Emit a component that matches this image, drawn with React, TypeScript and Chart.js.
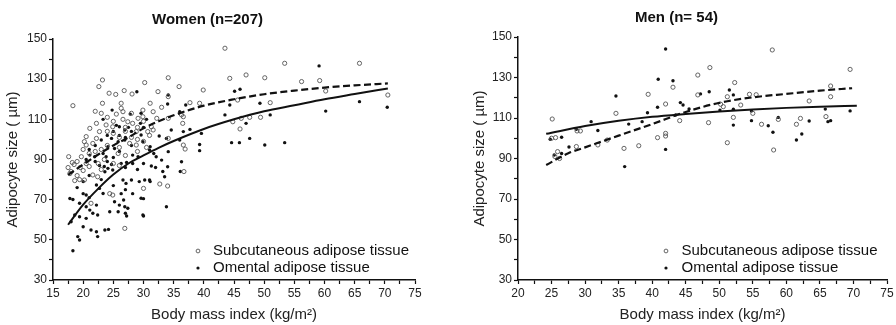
import React, { useEffect, useRef } from "react";
import { Chart, registerables } from "chart.js";

Chart.register(...registerables);

type P = [number, number];

const FONT = "'Liberation Sans', Arial, Helvetica, sans-serif";

const womenSubcutaneous: P[] = [
  [17.5, 86], [17.6, 91.4], [17.8, 83], [18, 84], [18.2, 88.5], [18.3, 116.8], [18.5, 87.5], [18.6, 79.5],
  [19, 82], [19, 89], [19.4, 80], [19.5, 86], [19.7, 91.4], [20, 84.5], [20, 95], [20.2, 79.8], [20.2, 98.9],
  [20.5, 88], [20.5, 97.2], [20.5, 101.4], [21, 86.5], [21, 93], [21.1, 105.5], [21.3, 68.2], [21.6, 82.3],
  [21.6, 98], [22, 94], [22, 114], [22.2, 100.5], [22.2, 108], [22.4, 81.4], [22.5, 88], [22.6, 126.3],
  [22.7, 103.9], [23, 85], [23, 95], [23, 113], [23.2, 118], [23.2, 129.6], [23.5, 90], [23.8, 107.2], [24, 97],
  [24, 104], [24, 111], [24.3, 123], [24.4, 73], [24.9, 72.3], [24.9, 106.3], [25, 88], [25, 103], [25, 109],
  [25.4, 122.4], [25.5, 112.6], [25.8, 93], [26, 87], [26, 96], [26, 101], [26.3, 115.5], [26.3, 118], [26.6, 110],
  [26.6, 113.8], [26.8, 124.3], [26.9, 55.7], [27, 92], [27, 104], [27, 106], [27.4, 108.8], [27.7, 98], [28, 101],
  [28, 113], [28.1, 122.6], [28.2, 108], [28.8, 97.2], [28.8, 103.9], [29, 94], [29, 100], [29, 106], [29.1, 110.5],
  [29.9, 111.3], [29.9, 114.6], [30, 75.6], [30, 99], [30, 109], [30.2, 128.3], [30.5, 96], [30.7, 103.9], [31, 102],
  [31.1, 118], [31.3, 106.3], [31.6, 104.7], [31.6, 113.8], [32.2, 110.5], [32.4, 123.8], [32.7, 77.8], [33, 116],
  [34, 76.8], [34.1, 100.5], [34.1, 110.5], [34.1, 121.3], [34.1, 130.7], [35.9, 126.3], [36.3, 112.2], [36.5, 108],
  [36.6, 97.2], [36.6, 111.3], [36.7, 84], [36.9, 95.2], [37.7, 118.3], [39.3, 118], [39.9, 124.6], [43.5, 145.4],
  [44.3, 130.4], [44.8, 108.8], [45.6, 119.6], [46, 105.2], [46.2, 110.5], [47, 132.1], [47.6, 111], [49.4, 111],
  [50.1, 130.7], [51, 118.3], [53.4, 137.9], [56.2, 128.8], [59.2, 129.3], [60.2, 124.1], [65.8, 137.9], [70.5, 122.1],
];

const womenOmental: P[] = [
  [17.8, 70.6], [18, 59], [18.3, 44.6], [18.3, 70.1], [18.6, 62.4], [19, 76], [19.1, 51.6], [19.4, 49.9],
  [19.4, 61.5], [19.4, 68.2], [20, 56.5], [20, 73], [20, 79], [20.5, 60.7], [20.5, 66.5], [20.5, 72.3], [20.5, 90],
  [21, 71], [21, 82], [21, 95], [21.1, 64.8], [21.1, 92.2], [21.3, 54.9], [21.6, 63.2], [21.9, 91.4], [22, 89],
  [22, 97], [22.2, 54], [22.2, 67.3], [22.2, 77.3], [22.4, 51.6], [22.4, 62.4], [22.7, 75.6], [22.7, 87], [23, 80],
  [23, 99.7], [23.3, 73.1], [23.3, 93], [23.3, 110], [23.5, 86.5], [23.6, 54.9], [23.6, 83.9], [23.8, 91.4], [24, 89],
  [24, 102], [24.1, 85.6], [24.1, 96.4], [24.2, 55.2], [24.4, 64], [24.7, 87.5], [24.7, 100.5], [24.8, 114.6],
  [24.9, 84.8], [25, 77], [25, 91], [25, 104], [25.2, 69], [25.2, 95.5], [25.5, 107], [25.8, 64], [25.8, 98.9],
  [26, 67.3], [26, 94], [26, 102], [26, 106.3], [26.3, 73], [26.3, 88], [26.6, 79.8], [26.7, 69.8], [26.9, 66.5],
  [26.9, 99.7], [26.9, 104.7], [27, 63.2], [27, 75], [27, 86], [27, 101], [27.1, 78.1], [27.2, 61.9], [27.2, 88.5],
  [27.4, 65.7], [27.5, 106], [27.8, 112.6], [28, 79.8], [28, 97], [28, 104], [28.2, 73], [28.2, 88], [28.2, 92.2],
  [28.9, 123.7], [29, 85], [29.1, 91.4], [29.3, 79], [29.5, 108], [29.6, 70.7], [29.6, 102.2], [29.6, 113],
  [29.9, 62.4], [29.9, 98.9], [30, 61.9], [30, 70.5], [30, 88], [30, 106], [30.2, 79.8], [30.5, 110], [31, 79.8],
  [31, 94.7], [31.1, 79], [31.1, 96.4], [31.3, 86.8], [31.7, 93], [32, 86], [32.1, 91.4], [32.6, 101.7], [33, 89.7],
  [33.2, 84], [33.5, 81.4], [33.8, 66.5], [33.8, 100.5], [34, 86.4], [34, 117.6], [34.1, 93.9], [34.1, 122.1],
  [34.6, 104.7], [36, 99.7], [36, 113.8], [36.1, 84], [36.3, 88.9], [36.6, 103.9], [37, 117.1], [37.7, 105],
  [39.3, 94.4], [39.3, 97.5], [39.6, 103], [43.5, 112.2], [44.3, 117.1], [44.6, 98.4], [45.1, 124], [45.9, 98.4],
  [46, 125], [47, 108], [47.6, 100.5], [49.3, 118], [50.1, 97.2], [51, 112.2], [53.4, 98.4], [59.1, 136.6],
  [60.2, 114.1], [65.8, 118.8], [70.4, 116],
];

const menSubcutaneous: P[] = [
  [25, 100], [25.1, 109.5], [25.5, 91], [25.6, 100.3], [25.9, 93.4], [26.2, 90], [28.7, 95.9], [28.8, 103.6],
  [29.3, 103.6], [31.9, 96.7], [33.3, 99.1], [34.6, 112.3], [35.8, 95], [38, 96.3], [39.4, 121.7], [40.8, 100.3],
  [42, 101.1], [42, 102.4], [42, 116.9], [43.1, 125.2], [44.1, 108.7], [46.8, 121.4], [46.8, 131.2], [48.4, 107.7],
  [48.6, 134.9], [50.2, 116.8], [50.6, 115.6], [51.2, 97.8], [51.2, 120.5], [52.1, 110.3], [52.3, 127.5],
  [53.2, 116.4], [54.5, 121.7], [55, 112.3], [55.5, 121.5], [56.3, 106.9], [57.9, 143.6], [58.1, 94.2],
  [58.8, 109.3], [61.5, 106.9], [62.1, 109.8], [63.4, 118.4], [65.9, 110.7], [66.6, 120.5], [66.6, 125.8], [69.5, 134],
];

const menOmental: P[] = [
  [24.8, 99.5], [25.4, 91.7], [26.5, 92.5], [26.5, 100.5], [27.6, 95.7], [28.7, 104.4], [30.9, 108.2],
  [31.9, 103.8], [34.6, 120.9], [35.9, 86], [36.5, 107], [38.5, 108.2], [39.3, 112.6], [40.8, 115.3], [40.9, 129.1],
  [42, 94.5], [42, 144.1], [43.1, 128.4], [43.5, 111.5], [44.2, 117.6], [44.6, 116.4], [45.5, 114.5], [47.2, 121.9],
  [48.5, 123], [50.1, 113.9], [51.5, 123.8], [52.1, 106.5], [52.1, 114.3], [52.1, 121.4], [54.8, 108.7],
  [54.8, 113.5], [57.3, 106.2], [58, 103], [58.8, 110.3], [61.5, 99.1], [62.3, 102.1], [63.4, 108.5], [65.8, 114.4],
  [66.2, 108.2], [66.6, 108.7], [69.5, 113.5],
];

const womenSubFit: P[] = [
  [17.5, 82.3], [20, 87.5], [22.5, 92.5], [25, 97], [27.5, 101], [30, 105.5], [32.5, 109], [35, 112], [40, 116.8],
  [45, 120], [50, 122.5], [55, 124.3], [60, 125.8], [65, 126.9], [70.5, 127.9],
];
const womenOmFit: P[] = [
  [17.5, 57.5], [20, 67.5], [22.5, 75.5], [25, 82.5], [27.5, 88], [30, 92], [32.5, 95.8], [35, 99.2], [40, 105.2],
  [45, 110], [50, 114], [55, 117], [60, 120], [65, 122.6], [70.5, 125.4],
];
const menSubFit: P[] = [
  [24.2, 86.8], [27.5, 92.6], [30, 95.5], [35, 101.3], [40, 107], [45, 113], [50, 117.5], [55, 120.2], [60, 121.9],
  [65, 123.5], [69.8, 124.7],
];
const menOmFit: P[] = [
  [24.2, 102.2], [30, 106], [35, 108.6], [40, 110.6], [45, 112], [50, 113.2], [55, 114.2], [60, 115], [65, 115.6],
  [70.5, 116.1],
];

const seriesLabels = ["Subcutaneous adipose tissue", "Omental adipose tissue"];
const xTitle = "Body mass index (kg/m²)";
const yTitle = "Adipocyte size ( µm)";

const toXY = (arr: P[]) => arr.map(([x, y]) => ({ x, y }));

const insideLegend = {
  id: "insideLegend",
  afterDraw(chart: any, _args: any, opts: any) {
    const { ctx, chartArea } = chart;
    ctx.save();
    ctx.font = `15px ${FONT}`;
    ctx.textBaseline = "middle";
    ctx.fillStyle = "#111";
    seriesLabels.forEach((label, i) => {
      const y = chartArea.bottom - opts.bottom + i * 17;
      const mx = chartArea.left + opts.markerX;
      ctx.beginPath();
      if (i === 0) {
        ctx.strokeStyle = "#555";
        ctx.lineWidth = 0.9;
        ctx.arc(mx, y, 1.9, 0, Math.PI * 2);
        ctx.stroke();
      } else {
        ctx.fillStyle = "#111";
        ctx.arc(mx, y, 1.6, 0, Math.PI * 2);
        ctx.fill();
      }
      ctx.fillStyle = "#111";
      ctx.fillText(label, chartArea.left + opts.textX, y);
    });
    ctx.restore();
  },
};

type Panel = {
  title: string;
  sub: P[];
  om: P[];
  subFit: P[];
  omFit: P[];
  xMin: number;
  padLeft: number;
  padRight: number;
  yWidth: number;
  yTitlePad: number;
  titlePadTop: number;
  titlePadBottom: number;
  legendMarkerX: number;
  legendTextX: number;
};

const panels: Panel[] = [
  {
    title: "Women (n=207)", sub: womenSubcutaneous, om: womenOmental, subFit: womenSubFit, omFit: womenOmFit,
    xMin: 15, padLeft: 0, padRight: 33, yWidth: 53, yTitlePad: 4, titlePadTop: 11, titlePadBottom: 10,
    legendMarkerX: 145, legendTextX: 160,
  },
  {
    title: "Men (n= 54)", sub: menSubcutaneous, om: menOmental, subFit: menSubFit, omFit: menOmFit,
    xMin: 20, padLeft: 18, padRight: 9, yWidth: 52, yTitlePad: 5, titlePadTop: 9, titlePadBottom: 10,
    legendMarkerX: 148, legendTextX: 163.5,
  },
];

function ChartPanel({ p }: { p: Panel }) {
  const ref = useRef<HTMLCanvasElement | null>(null);
  useEffect(() => {
    if (!ref.current) return;
    const tickFont = { family: FONT, size: 12 };
    const chart = new Chart(ref.current, {
      type: "scatter",
      data: {
        datasets: [
          {
            label: "subFit", data: toXY(p.subFit), showLine: true, pointRadius: 0, borderColor: "#111",
            borderWidth: 2.2, borderDash: [7, 3.5], cubicInterpolationMode: "monotone", fill: false,
          } as any,
          {
            label: "omFit", data: toXY(p.omFit), showLine: true, pointRadius: 0, borderColor: "#111",
            borderWidth: 2, cubicInterpolationMode: "monotone", fill: false,
          } as any,
          {
            label: seriesLabels[0], data: toXY(p.sub), pointRadius: 2.1, pointBorderWidth: 0.9,
            pointBorderColor: "#555", pointBackgroundColor: "rgba(0,0,0,0)", borderColor: "#555",
            backgroundColor: "rgba(0,0,0,0)",
          },
          {
            label: seriesLabels[1], data: toXY(p.om), pointRadius: 1.7, pointBorderWidth: 0,
            pointBackgroundColor: "#111", backgroundColor: "#111", borderColor: "#111",
          },
        ],
      },
      options: {
        responsive: false,
        animation: false,
        events: [],
        layout: { padding: { left: p.padLeft, right: p.padRight, top: 0, bottom: 0 } },
        plugins: {
          legend: { display: false },
          tooltip: { enabled: false },
          title: {
            display: true, text: p.title, color: "#111",
            font: { family: FONT, size: 15, weight: "bold", lineHeight: 1.2 },
            padding: { top: p.titlePadTop, bottom: p.titlePadBottom },
          },
          insideLegend: { bottom: 29, markerX: p.legendMarkerX, textX: p.legendTextX },
        } as any,
        scales: {
          x: {
            type: "linear", min: p.xMin, max: 75,
            afterFit: (s: any) => { s.height = 45; },
            border: { display: true, color: "#111", width: 1.5 },
            grid: { drawOnChartArea: false, drawTicks: true, tickLength: 4, tickColor: "#111", tickWidth: 1.2 },
            ticks: {
              stepSize: 2.5, autoSkip: false, maxRotation: 0, padding: 2, color: "#222", font: tickFont,
              callback: (v: any) => (Math.abs(Number(v) % 5) < 1e-6 ? String(Math.round(Number(v))) : ""),
            },
            title: {
              display: true, text: xTitle, color: "#222",
              font: { family: FONT, size: 15, lineHeight: 1.2 }, padding: { top: 0, bottom: 1 },
            },
          },
          y: {
            type: "linear", min: 30, max: 150,
            afterFit: (s: any) => { s.width = p.yWidth; },
            border: { display: true, color: "#111", width: 1.5 },
            grid: { drawOnChartArea: false, drawTicks: true, tickLength: 4, tickColor: "#111", tickWidth: 1.2 },
            ticks: {
              stepSize: 10, autoSkip: false, padding: 2, color: "#222", font: tickFont,
              callback: (v: any) => ((Math.round(Number(v)) - 30) % 20 === 0 ? String(Math.round(Number(v))) : ""),
            },
            title: {
              display: true, text: yTitle, color: "#222",
              font: { family: FONT, size: 15, lineHeight: 1.2 }, padding: { top: p.yTitlePad, bottom: 0 },
            },
          },
        },
      },
      plugins: [insideLegend],
    });
    return () => chart.destroy();
  }, [p]);
  return (
    <div style={{ width: 448, height: 325, position: "relative" }}>
      <canvas ref={ref} width={448} height={325} style={{ display: "block" }} />
    </div>
  );
}

export default function App() {
  return (
    <div style={{ position: "fixed", left: 0, top: 0, width: 896, height: 325, display: "flex", background: "#fff" }}>
      {panels.map((p) => (
        <ChartPanel key={p.title} p={p} />
      ))}
    </div>
  );
}
